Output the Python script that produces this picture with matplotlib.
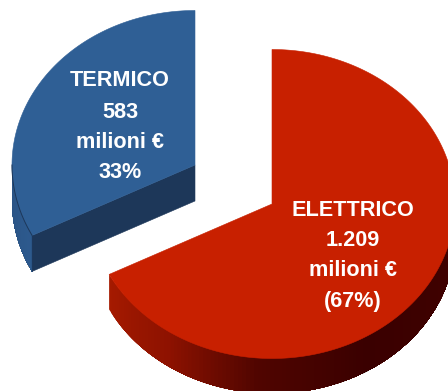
import numpy as np
import matplotlib
matplotlib.use("Agg")
import matplotlib.pyplot as plt
from matplotlib.collections import PolyCollection
from matplotlib.colors import to_rgb
from matplotlib.patches import Polygon

categories = ["TERMICO", "ELETTRICO"]
values = [583, 1209]
label_lines = [
    ["TERMICO", "583", "milioni €", "33%"],
    ["ELETTRICO", "1.209", "milioni €", "(67%)"],
]

RX, RY = 183, 154.5
centers = [(195, 165), (272, 204)]
depths = [36, 35]
tops = ["#2F5F95", "#C82000"]
cuts = ["#1D3759", None]
side_stops = [
    ([180, 207], ["#2A5384", "#2D5A8E"]),
    ([-153, -125, -95, -60, 0], ["#A51A00", "#8E1200", "#500500", "#3A0000", "#420200"]),
]
label_pos = [
    (120, [81, 112, 142, 172]),
    (353, [210, 240, 271, 302]),
]

total = sum(values)
spans = [v / total * 360 for v in values]
arcs = [(90, 90 + spans[0]), (90 - spans[1], 90)]

fig = plt.figure(figsize=(4.48, 3.91), dpi=100)
ax = fig.add_axes([0, 0, 1, 1])
ax.set_xlim(0, 448)
ax.set_ylim(391, 0)
ax.axis("off")


def pt(c, deg, dz=0):
    r = np.radians(deg)
    return c[0] + RX * np.cos(r), c[1] - RY * np.sin(r) + dz


for i in range(2):
    c, d = centers[i], depths[i]
    a0, a1 = arcs[i]
    lo, hi = (max(a0, 180), a1) if i == 0 else (a0, min(a1, 0))
    edges = np.linspace(lo, hi, 121)
    stops, cols = side_stops[i]
    rgb = np.array([to_rgb(x) for x in cols])
    # each strip runs on to the far end so that later ones overlap it: no seams
    polys, colors = [], []
    for e0 in edges[:-1]:
        arc = np.linspace(e0, hi, 60)
        outline = [pt(c, x) for x in arc] + [pt(c, x, d) for x in arc[::-1]]
        polys.append(outline)
        colors.append([np.interp(e0, stops, rgb[:, k]) for k in range(3)])
    ax.add_collection(PolyCollection(polys, facecolors=colors, edgecolors="none"))

    if cuts[i]:
        e = pt(c, a1)
        ax.add_patch(Polygon([c, e, (e[0], e[1] + d), (c[0], c[1] + d)],
                             closed=True, fc=cuts[i], ec=cuts[i], lw=0.4))

    t = np.linspace(a0, a1, 300)
    top = [c] + [pt(c, x) for x in t]
    ax.add_patch(Polygon(top, closed=True, fc=tops[i], ec=tops[i], lw=0.4))

    if i == 0:
        seam = np.array([pt(c, x) for x in np.linspace(lo, hi, 40)])
        ax.plot(seam[:, 0], seam[:, 1], color="#1D3759", lw=0.7)

    x, ys = label_pos[i]
    for line, y in zip(label_lines[i], ys):
        ax.text(x, y, line, color="white", fontsize=15.6, fontweight="bold",
                family="Liberation Sans", ha="center", va="center")

fig.savefig("out.png", dpi=100)
